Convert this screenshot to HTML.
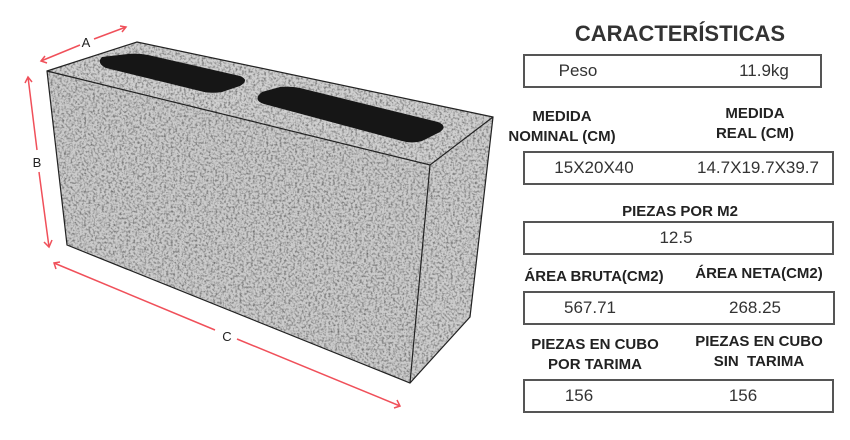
<!DOCTYPE html>
<html><head><meta charset="utf-8"><style>
body{margin:0;width:850px;height:440px;background:#fff;overflow:hidden;position:relative;font-family:"Liberation Sans",sans-serif;color:#222}
.t{position:absolute;white-space:nowrap;transform:translateX(-50%)}
.b{font-weight:bold;font-size:15px;line-height:20px;text-align:center;color:#222}
.box{position:absolute;border:2px solid #555;box-sizing:border-box}
.v{font-size:17px;color:#333}
</style></head><body>
<svg width="850" height="440" style="position:absolute;left:0;top:0">
<defs>
<filter id="n" x="0" y="0" width="100%" height="100%">
<feTurbulence type="fractalNoise" baseFrequency="0.45" numOctaves="2" seed="3" result="t"/>
<feColorMatrix in="t" type="matrix" values="0 0 0 0 0  0 0 0 0 0  0 0 0 0 0  -2.2 0 0 0 1.25" result="d"/>
<feComposite in="d" in2="SourceGraphic" operator="in"/>
</filter>
<clipPath id="c"><path d="M47,71 L137,42 L493,117 L470,317 L410,383 L67,245 Z"/></clipPath>
</defs>
<path d="M47,71 L137,42 L493,117 L430,165 Z" fill="#d0d0d0"/>
<path d="M47,71 L430,165 L410,383 L67,245 Z" fill="#cbcbcb"/>
<path d="M430,165 L493,117 L470,317 L410,383 Z" fill="#cdcdcd"/>
<rect x="40" y="35" width="460" height="355" fill="#000" filter="url(#n)" clip-path="url(#c)" opacity="0.5"/>
<path d="M102,57 Q96,63 106,68 L200,91 Q210,94 222,92 L240,86 Q250,80 240,76 L148,55 Q138,53 128,54 Z" fill="#161616"/>
<path d="M262,92 Q252,100 264,104 L402,141 Q412,144 422,141 L440,132 Q448,126 438,122 L300,88 Q290,86 280,87 Z" fill="#161616"/>
<g fill="none" stroke="#222" stroke-width="1.2">
<path d="M47,71 L137,42 L493,117 L470,317 L410,383 L67,245 Z"/>
<path d="M47,71 L430,165 L493,117 M430,165 L410,383"/>
</g>
<g fill="none" stroke="#f0505a" stroke-width="1.5">
<path d="M41,61 L80,45 M94,39 L126,27"/>
<path d="M45,56 L41,61 L47,63 M120,26 L126,27 L122,32"/>
<path d="M28,77 L37,150 M39,172 L49,247"/>
<path d="M25,83 L28,77 L32,82 M44,242 L49,247 L52,240"/>
<path d="M54,263 L215,330 M237,339 L400,406"/>
<path d="M56,269 L54,263 L60,262 M394,408 L400,406 L397,400"/>
</g>
<text x="86" y="47" font-size="13" font-family="Liberation Sans" fill="#222" text-anchor="middle">A</text>
<text x="37" y="167" font-size="13" font-family="Liberation Sans" fill="#222" text-anchor="middle">B</text>
<text x="227" y="341" font-size="13" font-family="Liberation Sans" fill="#222" text-anchor="middle">C</text>
</svg>

<div class="t" style="left:680px;top:21px;font-size:22px;font-weight:bold;color:#333">CARACTERÍSTICAS</div>
<div class="box" style="left:523px;top:54px;width:299px;height:34px"></div>
<div class="t v" style="left:578px;top:61px">Peso</div>
<div class="t v" style="left:764px;top:61px">11.9kg</div>

<div class="t b" style="left:562px;top:107px">MEDIDA<br>NOMINAL (CM)</div>
<div class="t b" style="left:755px;top:104px">MEDIDA<br>REAL (CM)</div>
<div class="box" style="left:523px;top:151px;width:311px;height:34px"></div>
<div class="t v" style="left:594px;top:158px">15X20X40</div>
<div class="t v" style="left:758px;top:158px">14.7X19.7X39.7</div>

<div class="t b" style="left:680px;top:202px">PIEZAS POR M2</div>
<div class="box" style="left:523px;top:221px;width:311px;height:34px"></div>
<div class="t v" style="left:676px;top:228px">12.5</div>

<div class="t b" style="left:594px;top:267px">ÁREA BRUTA(CM2)</div>
<div class="t b" style="left:759px;top:264px">ÁREA NETA(CM2)</div>
<div class="box" style="left:523px;top:291px;width:312px;height:34px"></div>
<div class="t v" style="left:590px;top:298px">567.71</div>
<div class="t v" style="left:755px;top:298px">268.25</div>

<div class="t b" style="left:595px;top:335px">PIEZAS EN CUBO<br>POR TARIMA</div>
<div class="t b" style="left:759px;top:332px">PIEZAS EN CUBO<br>SIN&nbsp; TARIMA</div>
<div class="box" style="left:523px;top:379px;width:311px;height:34px"></div>
<div class="t v" style="left:579px;top:386px">156</div>
<div class="t v" style="left:743px;top:386px">156</div>
</body></html>
